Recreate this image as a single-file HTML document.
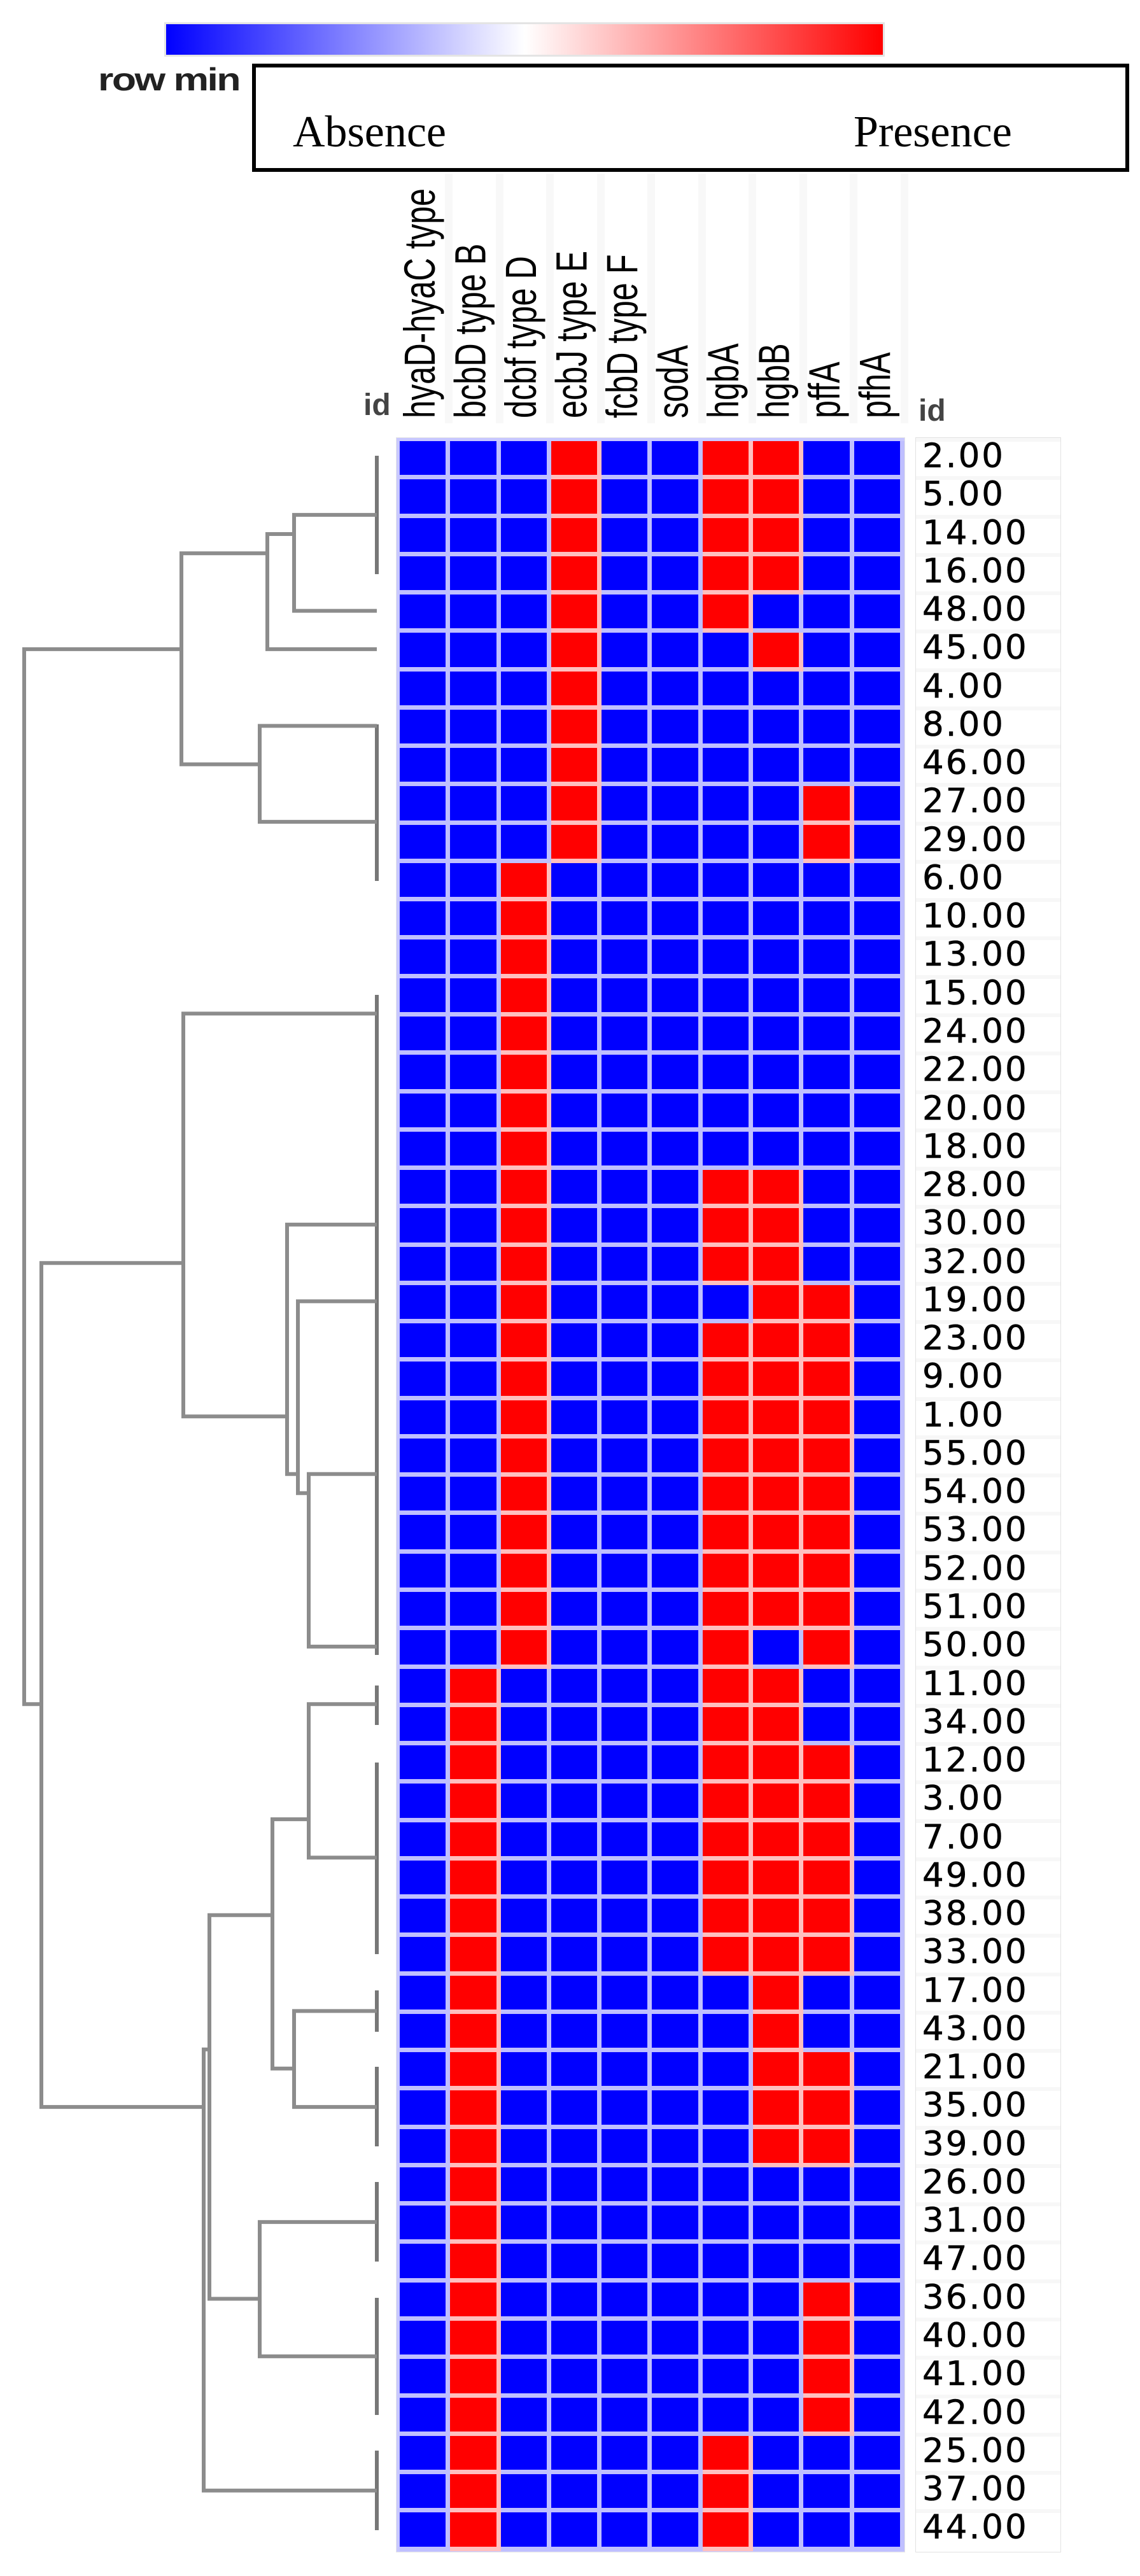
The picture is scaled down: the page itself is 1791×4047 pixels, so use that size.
<!DOCTYPE html>
<html><head><meta charset="utf-8">
<style>
body{margin:0;width:1791px;height:4047px;background:#fff;position:relative;overflow:hidden;font-family:"Liberation Sans",sans-serif}
.cb{position:absolute;left:258px;top:35px;width:1132px;height:54px;background:linear-gradient(to right,#0000ff 0%,#8080ff 25%,#ffffff 50%,#ff8080 75%,#ff0000 100%);border:3px solid #e4e4e4;box-sizing:border-box}
.rm{position:absolute;left:154px;top:96px;font-size:50px;color:#222;transform:scaleX(1.25);transform-origin:left top;font-weight:bold;letter-spacing:-2px}
.box{position:absolute;left:396px;top:100px;width:1378px;height:170px;border:6px solid #000;box-sizing:border-box;background:#fff}
.lg{position:absolute;top:168px;font-family:"Liberation Serif",serif;font-size:70px;color:#000}
.hm{position:absolute;left:622px;top:687px;width:800px;padding:5px 0 0 5px;background:#c8c8ff;border:1px solid #e6e6e6;box-sizing:border-box;height:3323px}
.row{display:flex;height:60.27px}
.row i{display:block;width:79.5px;height:60.27px;box-sizing:border-box;background:#0000ff;border-right:7.5px solid rgba(255,255,255,.75);border-bottom:7px solid rgba(255,255,255,.75)}
.row i.r{background:#ff0000}
.lb{position:absolute;left:1438px;top:687px;width:229px;height:3323px;border:1px solid #e2e2e2;box-sizing:border-box}
.lb div{height:60.27px;box-sizing:border-box;border-top:6px solid #f7f7f7;font-family:"DejaVu Sans",sans-serif;font-size:53px;line-height:46px;padding-left:10px;letter-spacing:3px;color:#000;-webkit-text-stroke:0.6px #000}
</style></head><body>
<div class="cb"></div>
<div class="rm">row min</div>
<div class="box"></div>
<div class="lg" style="left:460px">Absence</div>
<div class="lg" style="left:1341px">Presence</div>

<svg style="position:absolute;left:0;top:0" width="1791" height="4047">
<g fill="#f8f8f8">
<rect x="699" y="273" width="12" height="392"/><rect x="779" y="273" width="12" height="392"/><rect x="858" y="273" width="12" height="392"/><rect x="938" y="273" width="12" height="392"/><rect x="1017" y="273" width="12" height="392"/><rect x="1097" y="273" width="12" height="392"/><rect x="1176" y="273" width="12" height="392"/><rect x="1256" y="273" width="12" height="392"/><rect x="1335" y="273" width="12" height="392"/><rect x="1415" y="273" width="12" height="392"/>
</g>
<g font-family="Liberation Sans, sans-serif" font-size="69" fill="#000">
<text transform="translate(683,657) rotate(-90) scale(0.73,1)">hyaD-hyaC type</text>
<text transform="translate(762.5,657) rotate(-90) scale(0.73,1)">bcbD type B</text>
<text transform="translate(842,657) rotate(-90) scale(0.73,1)">dcbf type D</text>
<text transform="translate(921.5,657) rotate(-90) scale(0.73,1)">ecbJ type E</text>
<text transform="translate(1001,657) rotate(-90) scale(0.73,1)">fcbD type F</text>
<text transform="translate(1080.5,657) rotate(-90) scale(0.73,1)">sodA</text>
<text transform="translate(1160,657) rotate(-90) scale(0.73,1)">hgbA</text>
<text transform="translate(1239.5,657) rotate(-90) scale(0.73,1)">hgbB</text>
<text transform="translate(1319,657) rotate(-90) scale(0.73,1)">pffA</text>
<text transform="translate(1398.5,657) rotate(-90) scale(0.73,1)">pfhA</text>
</g>
<g font-family="Liberation Sans, sans-serif" font-size="48" font-weight="bold" fill="#444">
<text x="571" y="652">id</text>
<text x="1443" y="661">id</text>
</g>
<g stroke="#777" stroke-width="6" fill="none">
<path d="M592 716V902"/><path d="M592 1138V1263"/><path d="M592 1263V1384"/>
<path d="M592 1563V2142"/><path d="M592 1801V2046"/><path d="M592 2136V2600"/>
<path d="M592 2648V2710"/><path d="M592 2769V3070"/><path d="M592 3127V3192"/>
<path d="M592 3247V3372"/><path d="M592 3428V3553"/><path d="M592 3610V3794"/><path d="M592 3850V3975"/>
</g>
<g stroke="#8c8c8c" stroke-width="6" fill="none">
<path d="M592 808.9H462V959.6H592"/>
<path d="M462 839H420V1019.9H592"/>
<path d="M592 1140.4H408V1291.1H592"/>
<path d="M420 869.2H285V1200.7H408"/>
<path d="M285 1019.9H38V2677.3H65"/>
<path d="M288 1984.2H65V3310.1H320"/>
<path d="M592 1592.4H288V2225.3H451"/>
<path d="M592 1923.9H451V2315.7H468"/>
<path d="M592 2044.4H468V2345.8H485"/>
<path d="M592 2315.7H485V2586.9H592"/>
<path d="M592 2677.3H485V2918.4H592"/>
<path d="M592 3159.4H462V3310.1H592"/>
<path d="M485 2858.1H428V3249.8H462"/>
<path d="M592 3490.9H408V3701.9H592"/>
<path d="M428 3008.8H329V3611.5H408"/>
<path d="M329 3219.7H320V3912.8H592"/>
</g>
</svg>

<div class="hm">
<div class="row"><i></i><i></i><i></i><i class="r"></i><i></i><i></i><i class="r"></i><i class="r"></i><i></i><i></i></div>
<div class="row"><i></i><i></i><i></i><i class="r"></i><i></i><i></i><i class="r"></i><i class="r"></i><i></i><i></i></div>
<div class="row"><i></i><i></i><i></i><i class="r"></i><i></i><i></i><i class="r"></i><i class="r"></i><i></i><i></i></div>
<div class="row"><i></i><i></i><i></i><i class="r"></i><i></i><i></i><i class="r"></i><i class="r"></i><i></i><i></i></div>
<div class="row"><i></i><i></i><i></i><i class="r"></i><i></i><i></i><i class="r"></i><i></i><i></i><i></i></div>
<div class="row"><i></i><i></i><i></i><i class="r"></i><i></i><i></i><i></i><i class="r"></i><i></i><i></i></div>
<div class="row"><i></i><i></i><i></i><i class="r"></i><i></i><i></i><i></i><i></i><i></i><i></i></div>
<div class="row"><i></i><i></i><i></i><i class="r"></i><i></i><i></i><i></i><i></i><i></i><i></i></div>
<div class="row"><i></i><i></i><i></i><i class="r"></i><i></i><i></i><i></i><i></i><i></i><i></i></div>
<div class="row"><i></i><i></i><i></i><i class="r"></i><i></i><i></i><i></i><i></i><i class="r"></i><i></i></div>
<div class="row"><i></i><i></i><i></i><i class="r"></i><i></i><i></i><i></i><i></i><i class="r"></i><i></i></div>
<div class="row"><i></i><i></i><i class="r"></i><i></i><i></i><i></i><i></i><i></i><i></i><i></i></div>
<div class="row"><i></i><i></i><i class="r"></i><i></i><i></i><i></i><i></i><i></i><i></i><i></i></div>
<div class="row"><i></i><i></i><i class="r"></i><i></i><i></i><i></i><i></i><i></i><i></i><i></i></div>
<div class="row"><i></i><i></i><i class="r"></i><i></i><i></i><i></i><i></i><i></i><i></i><i></i></div>
<div class="row"><i></i><i></i><i class="r"></i><i></i><i></i><i></i><i></i><i></i><i></i><i></i></div>
<div class="row"><i></i><i></i><i class="r"></i><i></i><i></i><i></i><i></i><i></i><i></i><i></i></div>
<div class="row"><i></i><i></i><i class="r"></i><i></i><i></i><i></i><i></i><i></i><i></i><i></i></div>
<div class="row"><i></i><i></i><i class="r"></i><i></i><i></i><i></i><i></i><i></i><i></i><i></i></div>
<div class="row"><i></i><i></i><i class="r"></i><i></i><i></i><i></i><i class="r"></i><i class="r"></i><i></i><i></i></div>
<div class="row"><i></i><i></i><i class="r"></i><i></i><i></i><i></i><i class="r"></i><i class="r"></i><i></i><i></i></div>
<div class="row"><i></i><i></i><i class="r"></i><i></i><i></i><i></i><i class="r"></i><i class="r"></i><i></i><i></i></div>
<div class="row"><i></i><i></i><i class="r"></i><i></i><i></i><i></i><i></i><i class="r"></i><i class="r"></i><i></i></div>
<div class="row"><i></i><i></i><i class="r"></i><i></i><i></i><i></i><i class="r"></i><i class="r"></i><i class="r"></i><i></i></div>
<div class="row"><i></i><i></i><i class="r"></i><i></i><i></i><i></i><i class="r"></i><i class="r"></i><i class="r"></i><i></i></div>
<div class="row"><i></i><i></i><i class="r"></i><i></i><i></i><i></i><i class="r"></i><i class="r"></i><i class="r"></i><i></i></div>
<div class="row"><i></i><i></i><i class="r"></i><i></i><i></i><i></i><i class="r"></i><i class="r"></i><i class="r"></i><i></i></div>
<div class="row"><i></i><i></i><i class="r"></i><i></i><i></i><i></i><i class="r"></i><i class="r"></i><i class="r"></i><i></i></div>
<div class="row"><i></i><i></i><i class="r"></i><i></i><i></i><i></i><i class="r"></i><i class="r"></i><i class="r"></i><i></i></div>
<div class="row"><i></i><i></i><i class="r"></i><i></i><i></i><i></i><i class="r"></i><i class="r"></i><i class="r"></i><i></i></div>
<div class="row"><i></i><i></i><i class="r"></i><i></i><i></i><i></i><i class="r"></i><i class="r"></i><i class="r"></i><i></i></div>
<div class="row"><i></i><i></i><i class="r"></i><i></i><i></i><i></i><i class="r"></i><i></i><i class="r"></i><i></i></div>
<div class="row"><i></i><i class="r"></i><i></i><i></i><i></i><i></i><i class="r"></i><i class="r"></i><i></i><i></i></div>
<div class="row"><i></i><i class="r"></i><i></i><i></i><i></i><i></i><i class="r"></i><i class="r"></i><i></i><i></i></div>
<div class="row"><i></i><i class="r"></i><i></i><i></i><i></i><i></i><i class="r"></i><i class="r"></i><i class="r"></i><i></i></div>
<div class="row"><i></i><i class="r"></i><i></i><i></i><i></i><i></i><i class="r"></i><i class="r"></i><i class="r"></i><i></i></div>
<div class="row"><i></i><i class="r"></i><i></i><i></i><i></i><i></i><i class="r"></i><i class="r"></i><i class="r"></i><i></i></div>
<div class="row"><i></i><i class="r"></i><i></i><i></i><i></i><i></i><i class="r"></i><i class="r"></i><i class="r"></i><i></i></div>
<div class="row"><i></i><i class="r"></i><i></i><i></i><i></i><i></i><i class="r"></i><i class="r"></i><i class="r"></i><i></i></div>
<div class="row"><i></i><i class="r"></i><i></i><i></i><i></i><i></i><i class="r"></i><i class="r"></i><i class="r"></i><i></i></div>
<div class="row"><i></i><i class="r"></i><i></i><i></i><i></i><i></i><i></i><i class="r"></i><i></i><i></i></div>
<div class="row"><i></i><i class="r"></i><i></i><i></i><i></i><i></i><i></i><i class="r"></i><i></i><i></i></div>
<div class="row"><i></i><i class="r"></i><i></i><i></i><i></i><i></i><i></i><i class="r"></i><i class="r"></i><i></i></div>
<div class="row"><i></i><i class="r"></i><i></i><i></i><i></i><i></i><i></i><i class="r"></i><i class="r"></i><i></i></div>
<div class="row"><i></i><i class="r"></i><i></i><i></i><i></i><i></i><i></i><i class="r"></i><i class="r"></i><i></i></div>
<div class="row"><i></i><i class="r"></i><i></i><i></i><i></i><i></i><i></i><i></i><i></i><i></i></div>
<div class="row"><i></i><i class="r"></i><i></i><i></i><i></i><i></i><i></i><i></i><i></i><i></i></div>
<div class="row"><i></i><i class="r"></i><i></i><i></i><i></i><i></i><i></i><i></i><i></i><i></i></div>
<div class="row"><i></i><i class="r"></i><i></i><i></i><i></i><i></i><i></i><i></i><i class="r"></i><i></i></div>
<div class="row"><i></i><i class="r"></i><i></i><i></i><i></i><i></i><i></i><i></i><i class="r"></i><i></i></div>
<div class="row"><i></i><i class="r"></i><i></i><i></i><i></i><i></i><i></i><i></i><i class="r"></i><i></i></div>
<div class="row"><i></i><i class="r"></i><i></i><i></i><i></i><i></i><i></i><i></i><i class="r"></i><i></i></div>
<div class="row"><i></i><i class="r"></i><i></i><i></i><i></i><i></i><i class="r"></i><i></i><i></i><i></i></div>
<div class="row"><i></i><i class="r"></i><i></i><i></i><i></i><i></i><i class="r"></i><i></i><i></i><i></i></div>
<div class="row"><i></i><i class="r"></i><i></i><i></i><i></i><i></i><i class="r"></i><i></i><i></i><i></i></div>
</div>

<div class="lb">
<div>2.00</div><div>5.00</div><div>14.00</div><div>16.00</div><div>48.00</div><div>45.00</div><div>4.00</div><div>8.00</div><div>46.00</div><div>27.00</div><div>29.00</div>
<div>6.00</div><div>10.00</div><div>13.00</div><div>15.00</div><div>24.00</div><div>22.00</div><div>20.00</div><div>18.00</div>
<div>28.00</div><div>30.00</div><div>32.00</div><div>19.00</div><div>23.00</div><div>9.00</div><div>1.00</div><div>55.00</div><div>54.00</div><div>53.00</div><div>52.00</div><div>51.00</div><div>50.00</div>
<div>11.00</div><div>34.00</div><div>12.00</div><div>3.00</div><div>7.00</div><div>49.00</div><div>38.00</div><div>33.00</div><div>17.00</div><div>43.00</div><div>21.00</div><div>35.00</div><div>39.00</div><div>26.00</div><div>31.00</div><div>47.00</div><div>36.00</div><div>40.00</div><div>41.00</div><div>42.00</div><div>25.00</div><div>37.00</div><div>44.00</div>
</div>
</body></html>
